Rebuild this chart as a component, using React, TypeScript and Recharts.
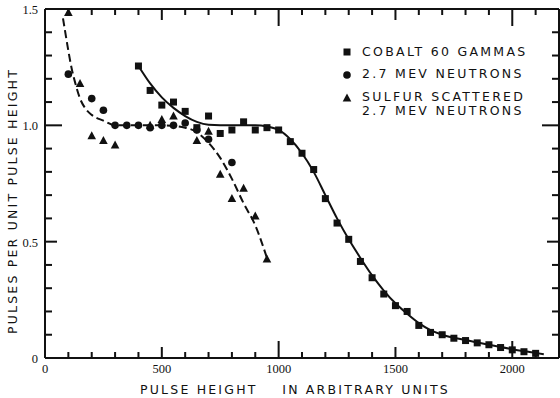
import React from "react";
import { ComposedChart, Scatter, Line, XAxis, YAxis, Legend } from "recharts";

const cobaltGammas = [
  { x: 400, y: 1.255 }, { x: 450, y: 1.15 }, { x: 500, y: 1.087 }, { x: 550, y: 1.1 },
  { x: 600, y: 1.06 }, { x: 650, y: 0.99 }, { x: 700, y: 1.04 }, { x: 750, y: 0.965 },
  { x: 800, y: 0.98 }, { x: 850, y: 1.015 }, { x: 900, y: 0.98 }, { x: 950, y: 0.99 },
  { x: 1000, y: 0.98 }, { x: 1050, y: 0.93 }, { x: 1100, y: 0.88 }, { x: 1150, y: 0.81 },
  { x: 1200, y: 0.685 }, { x: 1250, y: 0.58 }, { x: 1300, y: 0.51 }, { x: 1350, y: 0.415 },
  { x: 1400, y: 0.345 }, { x: 1450, y: 0.275 }, { x: 1500, y: 0.225 }, { x: 1550, y: 0.2 },
  { x: 1600, y: 0.14 }, { x: 1650, y: 0.11 }, { x: 1700, y: 0.1 }, { x: 1750, y: 0.085 },
  { x: 1800, y: 0.075 }, { x: 1850, y: 0.065 }, { x: 1900, y: 0.057 }, { x: 1950, y: 0.045 },
  { x: 2000, y: 0.035 }, { x: 2050, y: 0.027 }, { x: 2100, y: 0.02 },
];

const neutrons = [
  { x: 100, y: 1.22 }, { x: 200, y: 1.115 }, { x: 250, y: 1.065 }, { x: 300, y: 1.0 },
  { x: 350, y: 1.0 }, { x: 400, y: 1.0 }, { x: 450, y: 0.99 }, { x: 500, y: 1.0 },
  { x: 550, y: 1.0 }, { x: 600, y: 1.01 }, { x: 650, y: 0.98 }, { x: 700, y: 0.94 },
  { x: 800, y: 0.84 },
];

const sulfurScattered = [
  { x: 100, y: 1.485 }, { x: 150, y: 1.18 }, { x: 200, y: 0.955 }, { x: 250, y: 0.935 },
  { x: 300, y: 0.915 }, { x: 450, y: 1.0 }, { x: 500, y: 1.025 }, { x: 550, y: 1.04 },
  { x: 650, y: 0.935 }, { x: 700, y: 0.975 }, { x: 750, y: 0.79 }, { x: 800, y: 0.685 },
  { x: 850, y: 0.73 }, { x: 900, y: 0.61 }, { x: 950, y: 0.425 },
];

// hand-drawn fit curves
const cobaltCurve = [
  { x: 400, y: 1.255 }, { x: 450, y: 1.18 }, { x: 500, y: 1.12 }, { x: 550, y: 1.075 },
  { x: 600, y: 1.04 }, { x: 650, y: 1.015 }, { x: 700, y: 1.003 }, { x: 800, y: 1.0 },
  { x: 900, y: 1.0 }, { x: 950, y: 0.995 }, { x: 1000, y: 0.98 }, { x: 1050, y: 0.94 },
  { x: 1100, y: 0.88 }, { x: 1150, y: 0.8 }, { x: 1200, y: 0.7 }, { x: 1250, y: 0.6 },
  { x: 1300, y: 0.51 }, { x: 1350, y: 0.43 }, { x: 1400, y: 0.355 }, { x: 1450, y: 0.29 },
  { x: 1500, y: 0.235 }, { x: 1550, y: 0.19 }, { x: 1600, y: 0.15 }, { x: 1650, y: 0.12 },
  { x: 1700, y: 0.1 }, { x: 1800, y: 0.077 }, { x: 1900, y: 0.057 }, { x: 2000, y: 0.038 },
  { x: 2100, y: 0.022 }, { x: 2135, y: 0.016 },
];

const neutronCurve = [
  { x: 77, y: 1.46 }, { x: 90, y: 1.38 }, { x: 100, y: 1.32 }, { x: 115, y: 1.24 },
  { x: 130, y: 1.18 }, { x: 150, y: 1.115 }, { x: 175, y: 1.07 }, { x: 200, y: 1.045 },
  { x: 250, y: 1.02 }, { x: 300, y: 1.0 }, { x: 400, y: 1.0 }, { x: 500, y: 1.0 },
  { x: 600, y: 0.99 }, { x: 650, y: 0.97 }, { x: 700, y: 0.925 }, { x: 750, y: 0.86 },
  { x: 800, y: 0.77 }, { x: 850, y: 0.665 }, { x: 900, y: 0.57 }, { x: 950, y: 0.43 },
];

const xTicks = [
  0, 100, 200, 300, 400, 500, 600, 700, 800, 900, 1000, 1100,
  1200, 1300, 1400, 1500, 1600, 1700, 1800, 1900, 2000, 2100, 2200,
];
const yTicks = [0, 0.1, 0.2, 0.3, 0.4, 0.5, 0.6, 0.7, 0.8, 0.9, 1.0, 1.1, 1.2, 1.3, 1.4, 1.5];
const xTickLabels: Record<number, string> = { 0: "0", 500: "500", 1000: "1000", 1500: "1500", 2000: "2000" };
const yTickLabels: Record<number, string> = { 0: "0", 5: "0.5", 10: "1.0", 15: "1.5" };

const FONT = "DejaVu Sans";
const INK = "#111";
const X_DOMAIN = [0, 2200];
const Y_DOMAIN = [0, 1.5];

const xLen = (v: number) => (v % 1000 === 0 ? 17 : v % 500 === 0 ? 11 : 6);
const yLen = (v: number) => {
  const r = Math.round(v * 10);
  return r % 10 === 0 ? 17 : r % 5 === 0 ? 12 : 7;
};

// tick marks point into the plot, labels stay outside
const BottomTick = (props: any) => {
  const { x, y, payload } = props;
  const len = xLen(payload.value);
  const label = xTickLabels[payload.value];
  return (
    <g>
      <rect x={x - 1} y={y - len} width={2} height={len} fill={INK} />
      {label !== undefined && (
        <text x={x} y={y + 15} textAnchor="middle" fontSize={12.5} fill={INK}>
          {label}
        </text>
      )}
    </g>
  );
};

const TopTick = (props: any) => (
  <rect x={props.x - 1} y={props.y} width={2} height={xLen(props.payload.value)} fill={INK} />
);

const LeftTick = (props: any) => {
  const { x, y, payload } = props;
  const label = yTickLabels[Math.round(payload.value * 10)];
  return (
    <g>
      <rect x={x} y={y - 1} width={yLen(payload.value)} height={2} fill={INK} />
      {label !== undefined && (
        <text x={x - 7} y={y + 5} textAnchor="end" fontSize={12.5} fill={INK}>
          {label}
        </text>
      )}
    </g>
  );
};

const RightTick = (props: any) => {
  const len = yLen(props.payload.value);
  return <rect x={props.x - len} y={props.y - 1} width={len} height={2} fill={INK} />;
};

const Square = (p: any) => <rect x={p.cx - 3.5} y={p.cy - 3.5} width={7} height={7} fill={INK} />;
const Dot = (p: any) => <circle cx={p.cx} cy={p.cy} r={3.8} fill={INK} />;
const Tri = (p: any) => (
  <polygon points={`${p.cx},${p.cy - 4.5} ${p.cx - 4.3},${p.cy + 3.5} ${p.cx + 4.3},${p.cy + 3.5}`} fill={INK} />
);
const Nothing = () => <g />;

const txt = { fontFamily: FONT, fontSize: 12.5, fill: INK };
const overlayPos = { left: 0, top: 0, width: 560, height: 398, pointerEvents: "none" as const };

// key and axis titles, laid over the chart
const Overlay = () => (
  <svg width={560} height={398}>
    <rect x={343.5} y={48.5} width={7} height={7} fill={INK} />
    <text x={362} y={56} {...txt} letterSpacing={2.3}>COBALT 60 GAMMAS</text>
    <circle cx={347} cy={75} r={3.8} fill={INK} />
    <text x={362} y={78} {...txt} letterSpacing={2.3}>2.7 MEV NEUTRONS</text>
    <polygon points="347,93.5 342.7,101.5 351.3,101.5" fill={INK} />
    <text x={362} y={101} {...txt} letterSpacing={2.3}>SULFUR SCATTERED</text>
    <text x={362} y={115} {...txt} letterSpacing={2.3}>2.7 MEV NEUTRONS</text>
    <text x={295} y={394} textAnchor="middle" {...txt} letterSpacing={2.2} style={{ whiteSpace: "pre" }}>
      {"PULSE HEIGHT    IN ARBITRARY UNITS"}
    </text>
    <text x={12} y={201} transform="rotate(-90 12 201)" textAnchor="middle" dominantBaseline="central" {...txt} letterSpacing={2.2}>
      PULSES PER UNIT PULSE HEIGHT
    </text>
  </svg>
);

export default function App() {
  return (
    <div style={{ position: "absolute", left: 0, top: 0, background: "#fff" }}>
      <ComposedChart width={560} height={398} margin={{ top: 0, right: 0, bottom: 0, left: 0 }}>
        <XAxis dataKey="x" type="number" domain={X_DOMAIN} ticks={xTicks} interval={0} tickSize={0} tickMargin={0} tickLine={false} tick={BottomTick} height={40} stroke={INK} strokeWidth={2} />
        <XAxis xAxisId="top" dataKey="x" orientation="top" type="number" domain={X_DOMAIN} ticks={xTicks} interval={0} tickSize={0} tickMargin={0} tickLine={false} tick={TopTick} height={9} stroke={INK} strokeWidth={2} />
        <YAxis dataKey="y" type="number" domain={Y_DOMAIN} ticks={yTicks} interval={0} tickSize={0} tickMargin={0} tickLine={false} tick={LeftTick} width={45} stroke={INK} strokeWidth={2} />
        <YAxis yAxisId="right" dataKey="y" orientation="right" type="number" domain={Y_DOMAIN} ticks={yTicks} interval={0} tickSize={0} tickMargin={0} tickLine={false} tick={RightTick} width={1} stroke={INK} strokeWidth={2} />
        <Legend layout="vertical" align="center" verticalAlign="middle" content={<Overlay />} wrapperStyle={overlayPos} />
        <Line data={cobaltCurve} dataKey="y" type="monotone" stroke={INK} strokeWidth={2} dot={false} isAnimationActive={false} legendType="none" />
        <Line data={neutronCurve} dataKey="y" type="monotone" stroke={INK} strokeWidth={2} strokeDasharray="8 4" dot={false} isAnimationActive={false} legendType="none" />
        <Scatter name="COBALT 60 GAMMAS" data={cobaltGammas} dataKey="y" shape={Square} isAnimationActive={false} />
        <Scatter name="2.7 MEV NEUTRONS" data={neutrons} dataKey="y" shape={Dot} isAnimationActive={false} />
        <Scatter name="SULFUR SCATTERED 2.7 MEV NEUTRONS" data={sulfurScattered} dataKey="y" shape={Tri} isAnimationActive={false} />
        <Scatter xAxisId="top" data={cobaltGammas} dataKey="y" shape={Nothing} isAnimationActive={false} legendType="none" />
        <Scatter yAxisId="right" data={cobaltGammas} dataKey="y" shape={Nothing} isAnimationActive={false} legendType="none" />
      </ComposedChart>
    </div>
  );
}
